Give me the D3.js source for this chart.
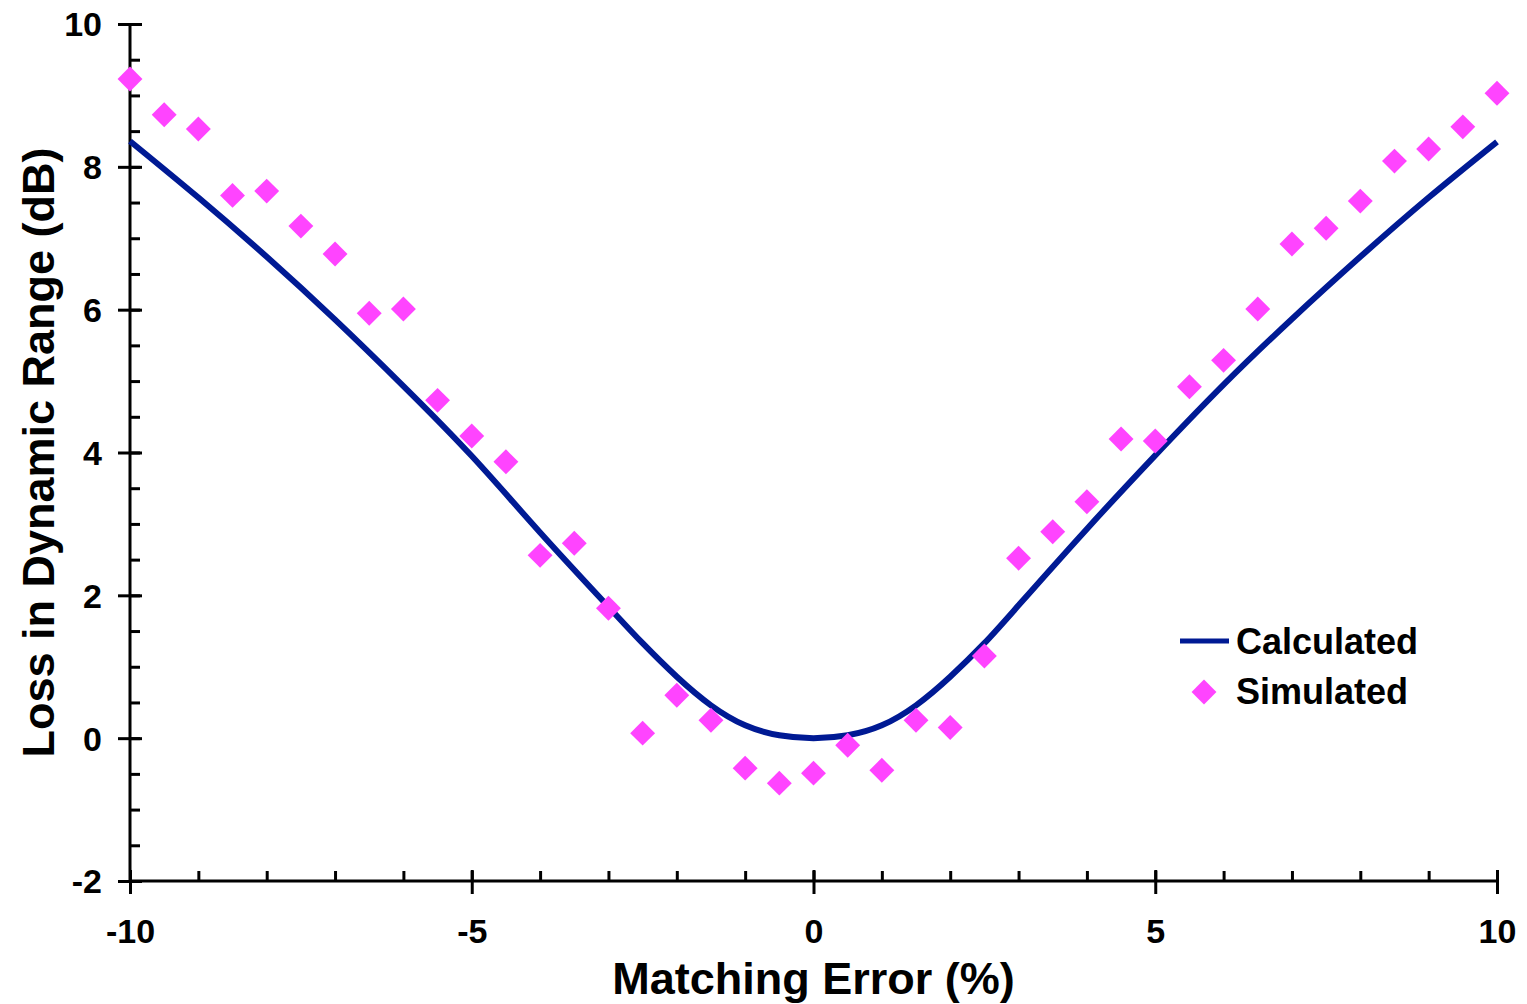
<!DOCTYPE html>
<html>
<head>
<meta charset="utf-8">
<script src="https://cdn.jsdelivr.net/npm/d3@7"></script>
<style>
  html, body { margin: 0; padding: 0; background: #fff; }
  svg text { font-family: "Liberation Sans", Arial, sans-serif; font-weight: bold; fill: #000; }
</style>
</head>
<body>
<svg id="chart" width="1527" height="1004"></svg>
<script>
// Calculated curve
const calcX = [-10, -9, -8, -7, -6, -5, -4, -3, -2.5, -2, -1.5, -1, -0.5, 0, 0.5, 1, 1.5, 2, 2.5, 3, 4, 5, 6, 7, 8, 9, 10];
const calcY = [8.36, 7.57, 6.74, 5.86, 4.93, 3.95, 2.88, 1.84, 1.33, 0.86, 0.46, 0.18, 0.04, 0, 0.04, 0.18, 0.46, 0.86, 1.33, 1.86, 2.93, 3.96, 4.95, 5.87, 6.74, 7.57, 8.35];

// Simulated points, one every 0.5 %
const simX = d3.range(-10, 10.001, 0.5);
const simY = [9.23, 8.73, 8.53, 7.6, 7.66, 7.17, 6.78, 5.95, 6.01, 4.73,
              4.23, 3.87, 2.56, 2.73, 1.82, 0.07, 0.6, 0.25, -0.42, -0.63,
              -0.49, -0.1, -0.45, 0.25, 0.15, 1.15, 2.52, 2.89, 3.31, 4.19,
              4.16, 4.92, 5.29, 6.01, 6.92, 7.14, 7.52, 8.08, 8.25, 8.56, 9.03];

const xTicks = [-10, -5, 0, 5, 10];
const yTicks = [-2, 0, 2, 4, 6, 8, 10];
const xLabel = "Matching Error (%)";
const yLabel = "Loss in Dynamic Range (dB)";
const seriesNames = ["Calculated", "Simulated"];

const lineColor = "#001a94";
const dotColor = "#ff44ff";

const svg = d3.select("#chart");

const x = d3.scaleLinear().domain([-10, 10]).range([130, 1497]);
const y = d3.scaleLinear().domain([-2, 10]).range([881, 24]);

// minor ticks first, majors on top
svg.append("g")
  .attr("transform", "translate(130,0)")
  .call(d3.axisRight(y).tickValues(d3.range(-2, 10.001, 0.5)).tickSize(10).tickFormat(""))
  .call((g) => g.select(".domain").remove())
  .call((g) => g.selectAll("line").attr("stroke", "#000").attr("stroke-width", 3));

svg.append("g")
  .attr("transform", "translate(0,881)")
  .call(d3.axisTop(x).tickValues(d3.range(-10, 10.001, 1)).tickSize(10).tickFormat(""))
  .call((g) => g.select(".domain").remove())
  .call((g) => g.selectAll("line").attr("stroke", "#000").attr("stroke-width", 3));

// y axis with crossing major ticks
const yAxis = svg.append("g")
  .attr("transform", "translate(130,0)")
  .call(d3.axisLeft(y).tickValues(yTicks).tickSize(12).tickPadding(16).tickFormat(d3.format("d")));
yAxis.select(".domain").attr("stroke", "#000").attr("stroke-width", 3).attr("d", `M0,${y(10)}V${y(-2)}`);
yAxis.selectAll(".tick line").attr("x1", 12).attr("stroke", "#000").attr("stroke-width", 3);
yAxis.selectAll(".tick text")
  .style("font-size", "34px")
  .attr("dy", "0.35em")
  .text((d) => (d < 0 ? "-" + Math.abs(d) : d));

// x axis with crossing major ticks
const xAxis = svg.append("g")
  .attr("transform", "translate(0,881)")
  .call(d3.axisBottom(x).tickValues(xTicks).tickSize(13).tickPadding(25));
xAxis.select(".domain").attr("stroke", "#000").attr("stroke-width", 3).attr("d", `M${x(-10)},0H${x(10)}`);
xAxis.selectAll(".tick line").attr("y1", -11).attr("stroke", "#000").attr("stroke-width", 3);
xAxis.selectAll(".tick text")
  .style("font-size", "34px")
  .text((d) => (d < 0 ? "-" + Math.abs(d) : d));

// axis titles
svg.append("text")
  .attr("x", x(0))
  .attr("y", 994)
  .attr("text-anchor", "middle")
  .style("font-size", "45px")
  .text(xLabel);

svg.append("text")
  .attr("transform", `translate(54,${(148 + 757) / 2}) rotate(-90)`)
  .attr("text-anchor", "middle")
  .style("font-size", "45px")
  .text(yLabel);

// calculated line
const calcData = calcX.map((v, i) => ({ x: v, y: calcY[i] }));
const line = d3.line()
  .curve(d3.curveNatural)
  .x((d) => x(d.x))
  .y((d) => y(d.y));

svg.append("path")
  .datum(calcData)
  .attr("fill", "none")
  .attr("stroke", lineColor)
  .attr("stroke-width", 6)
  .attr("stroke-linejoin", "round")
  .attr("d", line);

// simulated diamonds
const diamond = d3.symbol(d3.symbolSquare, 310);
const simData = simX.map((v, i) => ({ x: v, y: simY[i] }));
svg.append("g")
  .selectAll("path")
  .data(simData)
  .join("path")
  .attr("d", diamond)
  .attr("fill", dotColor)
  .attr("transform", (d) => `translate(${x(d.x)},${y(d.y)}) rotate(45)`);

// legend
const legend = svg.append("g");
legend.append("line")
  .attr("x1", 1180).attr("x2", 1229)
  .attr("y1", 641).attr("y2", 641)
  .attr("stroke", lineColor)
  .attr("stroke-width", 5);
legend.append("text")
  .attr("x", 1236).attr("y", 654)
  .style("font-size", "36px")
  .text(seriesNames[0]);
legend.append("path")
  .attr("d", diamond)
  .attr("fill", dotColor)
  .attr("transform", "translate(1204,692) rotate(45)");
legend.append("text")
  .attr("x", 1236).attr("y", 704)
  .style("font-size", "36px")
  .text(seriesNames[1]);
</script>
</body>
</html>
